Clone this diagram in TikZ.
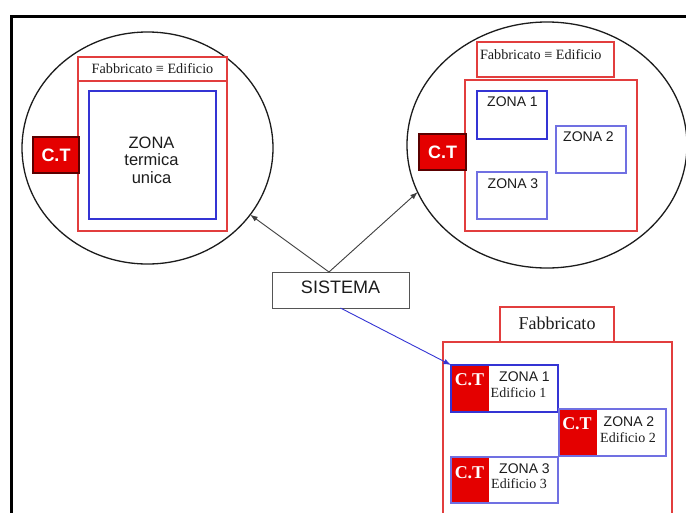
\documentclass[tikz,border=0pt]{standalone}
\usepackage{fontspec}
\setmainfont{Liberation Serif}
\newfontfamily\sansf{Liberation Sans}
\usetikzlibrary{shapes.geometric,arrows.meta,calc}

\definecolor{lineRed}{RGB}{226,62,62}
\definecolor{zoneBlue}{RGB}{52,52,212}
\definecolor{zoneBlueLight}{RGB}{112,112,226}
\definecolor{ctRed}{RGB}{228,0,0}
\definecolor{ctEdge}{RGB}{90,0,0}
\definecolor{ink}{RGB}{28,28,28}

\newcommand{\fsz}[2]{\fontsize{#1}{#2}\selectfont}

\begin{document}
\begin{tikzpicture}[x=1pt,y=-1pt,
  every node/.style={inner sep=0pt,outer sep=0pt,text=ink},
  redbox/.style={rectangle,draw=lineRed,line width=1.3pt,anchor=north west},
  zonebox/.style={rectangle,draw=zoneBlue,line width=1.6pt,anchor=north west},
  zoneboxlight/.style={rectangle,draw=zoneBlueLight,line width=1.3pt,anchor=north west},
  circ/.style={ellipse,draw=ink,line width=1.3pt},
  ctbox/.style={rectangle,fill=ctRed,draw=ctEdge,line width=1.2pt,anchor=north west,
    text=white,font=\sansf\bfseries\fsz{18}{20}},
  ctfill/.style={rectangle,fill=ctRed,anchor=north west},
  ctlabel/.style={text=white,font=\bfseries\fsz{18}{20}},
  headtxt/.style={font=\fsz{14.2}{16}},
  zonetxt/.style={font=\sansf\fsz{14}{16}},
  edtxt/.style={font=\fsz{14}{16}},
  arr/.style={draw=ink!85,line width=0.9pt,-{Latex[length=7.5pt,width=5.5pt]}},
]
\clip (0,0) rectangle (686,512);
\fill[white] (0,0) rectangle (686,512);

% outer frame
\draw[line width=3.3pt] (11.7,540) -- (11.7,16.8) -- (700,16.8);

% ---------- single thermal zone ----------
\node[circ,minimum width=251pt,minimum height=232pt] (lc) at (147.5,148) {};
\node[redbox,minimum width=149pt,minimum height=24pt] (lhead) at (78,57) {};
\node[redbox,minimum width=149pt,minimum height=150pt] (lbody) at (78,81) {};
\node[headtxt] (lheadt) at (lhead.center) {Fabbricato ≡ Edificio};
\node[zonebox,line width=1.4pt,minimum width=127pt,minimum height=128pt] (lzone) at (89,91) {};
\node[align=center,font=\sansf\fsz{16.5}{17.5}] (lzonet) at (151.5,160) {ZONA\\termica\\unica};
\node[ctbox,minimum width=46pt,minimum height=36pt] (lct) at (33,137) {C.T};

% ---------- building with several zones ----------
\node[circ,minimum width=280pt,minimum height=246pt] (rc) at (547,145) {};
\node[redbox,minimum width=137pt,minimum height=35pt] (rhead) at (477,42) {};
\node[headtxt,anchor=west] (rheadt) at (480,55) {Fabbricato ≡ Edificio};
\node[redbox,minimum width=172pt,minimum height=151pt] (rbody) at (465,80) {};
\node[zonebox,minimum width=70pt,minimum height=48pt] (rz1) at (477,91) {};
\node[zonetxt] (rz1t) at (512.5,102) {ZONA 1};
\node[zoneboxlight,minimum width=70pt,minimum height=47pt] (rz2) at (556,126) {};
\node[zonetxt] (rz2t) at (588.5,137) {ZONA 2};
\node[zoneboxlight,minimum width=70pt,minimum height=47pt] (rz3) at (477,172) {};
\node[zonetxt] (rz3t) at (513,184) {ZONA 3};
\node[ctbox,minimum width=47pt,minimum height=36pt] (rct) at (419,134) {C.T};

% ---------- system ----------
\node[rectangle,draw=ink!75,line width=1pt,minimum width=137pt,minimum height=36pt] (sis) at (340.5,290) {};
\node[font=\sansf\fsz{18}{20}] (sist) at (340.5,287) {SISTEMA};
\coordinate (sisTop) at ($(sis.north)+(-11.5,0)$);

% ---------- building split into several buildings ----------
\node[redbox,minimum width=114pt,minimum height=35pt] (ftab) at (500,307) {};
\node[font=\fsz{18}{20}] (ftabt) at (557,323) {Fabbricato};
\node[redbox,minimum width=229pt,minimum height=220pt] (fbody) at (443,342) {};

\node[ctfill,minimum width=38pt,minimum height=47pt] (b1ct) at (451,365) {};
\node[zonebox,minimum width=107pt,minimum height=47pt] (b1) at (451,365) {};
\node[ctlabel] (b1ctt) at (469.5,380) {C.T};
\node[zonetxt] (b1z) at (524.5,377) {ZONA 1};
\node[edtxt] (b1e) at (518.5,393) {Edificio 1};

\node[ctfill,minimum width=38pt,minimum height=47pt] (b2ct) at (559,409) {};
\node[zoneboxlight,line width=1.5pt,minimum width=107pt,minimum height=47pt] (b2) at (559,409) {};
\node[ctlabel] (b2ctt) at (577,424) {C.T};
\node[zonetxt] (b2z) at (629,422) {ZONA 2};
\node[edtxt] (b2e) at (628,438) {Edificio 2};

\node[ctfill,minimum width=38pt,minimum height=46pt] (b3ct) at (451,457) {};
\node[zoneboxlight,line width=1.5pt,minimum width=107pt,minimum height=46pt] (b3) at (451,457) {};
\node[ctlabel] (b3ctt) at (469.5,473) {C.T};
\node[zonetxt] (b3z) at (524.5,469) {ZONA 3};
\node[edtxt] (b3e) at (519,484) {Edificio 3};

% ---------- connectors ----------
\draw[arr] (sisTop) -- (lc.-33);
\draw[arr] (sisTop) -- (rc.200);
\draw[arr,draw=zoneBlue,-{Latex[length=7.5pt,width=5.5pt]}] (sis.south) -- (b1.north west);
\end{tikzpicture}
\end{document}
